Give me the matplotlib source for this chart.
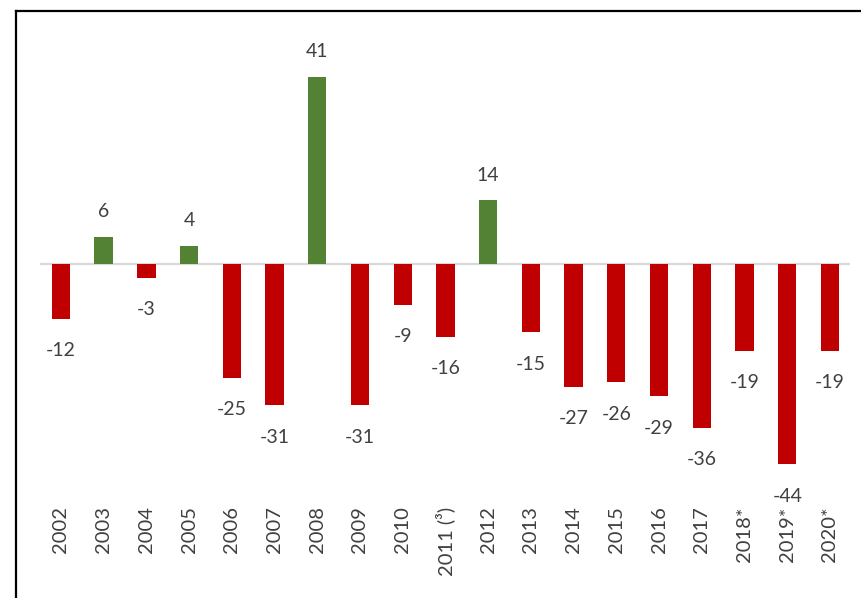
import matplotlib
matplotlib.use("Agg")
import matplotlib.pyplot as plt
from matplotlib.lines import Line2D

years = ["2002", "2003", "2004", "2005", "2006", "2007", "2008", "2009", "2010",
         "2011 (³)", "2012", "2013", "2014", "2015", "2016", "2017",
         "2018*", "2019*", "2020*"]
values = [-12, 6, -3, 4, -25, -31, 41, -31, -9, -16, 14, -15, -27, -26, -29, -36,
          -19, -44, -19]

RED = "#C00000"
GREEN = "#548235"
TXT = "#404040"

plt.rcParams['font.family'] = ['Lato', 'DejaVu Sans']

W, H = 861, 598
fig = plt.figure(figsize=(W / 100, H / 100), dpi=100)
ax = fig.add_axes([40 / W, (H - 480) / H, 810 / W, 460 / H])

x = list(range(len(years)))
colors = [GREEN if v > 0 else RED for v in values]
ax.bar(x, values, width=0.43, color=colors, zorder=2)
ax.axhline(0, color="#d9d9d9", lw=1.6, zorder=1)

for xi, v in zip(x, values):
    off = 18 if v > 0 else -23
    ax.annotate(str(v), (xi, v), xytext=(0, off), textcoords="offset points",
                ha="center", va="center", fontsize=14, color=TXT)

ax.set_xlim(-0.49, 18.47)
ax.set_ylim(-47.4, 53.5)
ax.set_xticks(x)
ax.set_xticklabels(years, rotation=90, va="top", ha="center", fontsize=14.5, color=TXT)
ax.tick_params(axis="x", length=0, pad=19)
ax.set_yticks([])
for s in ax.spines.values():
    s.set_visible(False)
ax.patch.set_alpha(0)

# frame lines (left and top)
fig.add_artist(Line2D([16 / W, 16 / W], [0, 1 - 11 / H], color="black", lw=1.6,
                      transform=fig.transFigure, solid_capstyle="projecting"))
fig.add_artist(Line2D([16 / W, 1], [1 - 11 / H, 1 - 11 / H], color="black", lw=1.6,
                      transform=fig.transFigure, solid_capstyle="projecting"))

fig.savefig("out.png", dpi=100)
